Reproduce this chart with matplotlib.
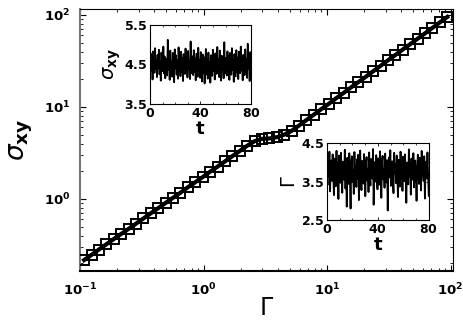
import numpy as np
import matplotlib
matplotlib.use("Agg")
import matplotlib.pyplot as plt
from matplotlib.ticker import LogLocator, NullFormatter, FixedLocator

plt.rcParams['font.family'] = ['DejaVu Sans']
plt.rcParams['mathtext.fontset'] = 'dejavusans'

# ---- main curve data ----
gamma = [0.108, 0.124, 0.142, 0.163, 0.187, 0.215, 0.247, 0.284, 0.326, 0.374,
         0.430, 0.493, 0.566, 0.650, 0.746, 0.857, 0.984, 1.13, 1.30, 1.49,
         1.71, 1.96, 2.25, 2.59, 2.97, 3.41, 3.92, 4.50, 5.16, 5.93,
         6.81, 7.82, 8.97, 10.3, 11.8, 13.6, 15.6, 17.9, 20.6, 23.6,
         27.1, 31.1, 35.7, 41.0, 47.1, 54.1, 62.1, 71.3, 81.8, 94.0]
sigma = [0.217, 0.247, 0.282, 0.321, 0.366, 0.416, 0.473, 0.539, 0.614, 0.699,
         0.796, 0.906, 1.03, 1.17, 1.34, 1.52, 1.73, 1.98, 2.25, 2.56,
         2.92, 3.32, 3.78, 4.25, 4.50, 4.55, 4.70, 5.00, 5.50, 6.29,
         7.21, 8.26, 9.46, 10.8, 12.4, 14.2, 16.3, 18.6, 21.3, 24.4,
         28.0, 32.1, 36.7, 42.1, 48.2, 55.2, 63.2, 72.4, 83.0, 95.1]

# ---- inset time series ----
t_start, t_end = 0, 80
sigma_t = [4.21, 4.78, 4.35, 4.66, 4.12, 4.83, 4.47, 4.29, 4.91, 4.38,
           4.62, 4.18, 4.74, 4.41, 4.87, 4.25, 4.59, 4.09, 4.80, 4.44,
           4.33, 4.95, 4.27, 4.70, 4.15, 4.64, 4.52, 4.22, 5.12, 4.36,
           4.69, 4.11, 4.85, 4.30, 4.57, 4.19, 4.79, 4.46, 4.05, 4.88,
           4.40, 4.73, 4.24, 4.61, 4.14, 4.93, 4.37, 4.55, 4.20, 4.82,
           4.31, 4.67, 4.08, 4.76, 4.43, 4.26, 4.90, 4.34, 4.63, 4.17,
           4.84, 4.39, 4.58, 4.13, 5.08, 4.28, 4.71, 4.45, 4.23, 4.86,
           4.32, 4.65, 4.10, 4.77, 4.48, 4.19, 4.92, 4.35, 4.60, 4.16,
           4.81, 4.42, 4.07, 4.75, 4.29, 4.68, 4.02, 4.54, 4.89, 4.25,
           4.62, 4.14, 4.80, 4.38, 4.56, 4.04, 4.73, 4.47, 4.21, 4.87,
           4.33, 4.69, 4.12, 4.78, 4.40, 4.26, 4.94, 4.30, 4.63, 4.18,
           4.85, 4.44, 4.09, 4.72, 4.36, 4.59, 4.15, 5.06, 4.27, 4.66,
           4.46, 4.22, 4.83, 4.34, 4.70, 4.11, 4.79, 4.41, 4.24, 4.91,
           4.37, 4.61, 4.06, 4.76, 4.49, 4.20, 4.86, 4.31, 4.67, 4.13,
           4.82, 4.43, 4.28, 4.95, 4.35, 4.58, 4.10, 4.74, 4.45, 4.23,
           4.88, 4.32, 4.64, 4.16, 5.02, 4.39, 4.71, 4.08, 4.81, 4.47]
gamma_t = [3.92, 3.41, 4.15, 3.63, 4.28, 3.25, 3.88, 4.05, 3.52, 4.21,
           3.70, 3.15, 4.10, 3.84, 3.38, 4.30, 3.59, 3.97, 3.05, 4.18,
           3.76, 3.47, 4.25, 3.66, 3.21, 4.02, 3.89, 3.55, 4.33, 3.32,
           3.94, 2.85, 4.12, 3.71, 3.44, 4.24, 3.60, 2.80, 3.99, 4.16,
           3.49, 3.81, 3.18, 4.27, 3.68, 3.90, 3.36, 4.08, 3.57, 4.20,
           3.02, 3.86, 4.31, 3.62, 3.28, 4.04, 3.74, 3.45, 4.22, 3.79,
           3.12, 3.95, 4.14, 3.53, 3.83, 3.23, 4.26, 3.67, 3.40, 4.09,
           3.91, 3.58, 4.35, 2.90, 3.73, 4.01, 3.50, 4.19, 3.64, 3.30,
           4.11, 3.87, 3.42, 4.29, 3.69, 3.08, 3.98, 4.17, 3.56, 3.82,
           3.34, 4.23, 3.75, 3.48, 4.06, 2.75, 3.93, 4.13, 3.61, 4.32,
           3.39, 3.85, 4.03, 3.54, 3.20, 4.25, 3.72, 3.96, 3.46, 4.18,
           3.65, 3.10, 4.07, 3.80, 3.37, 4.28, 3.59, 3.92, 3.26, 4.15,
           3.77, 3.51, 4.21, 3.68, 2.95, 4.00, 3.88, 3.43, 4.34, 3.63,
           3.97, 3.16, 4.10, 3.78, 3.55, 4.24, 3.35, 3.90, 4.05, 3.60,
           3.00, 3.84, 4.20, 3.70, 3.44, 4.12, 3.81, 3.27, 4.30, 3.66,
           3.94, 3.52, 4.16, 3.06, 3.86, 4.02, 3.58, 4.26, 3.73, 3.13]

main_xticks = [0.1, 1, 10, 100]
main_xticklabels = [r'$\mathbf{10^{-1}}$', r'$\mathbf{10^{0}}$', r'$\mathbf{10^{1}}$', r'$\mathbf{10^{2}}$']
main_yticks = [1, 10, 100]
main_yticklabels = [r'$\mathbf{10^{0}}$', r'$\mathbf{10^{1}}$', r'$\mathbf{10^{2}}$']
inset_xticks = [0, 40, 80]
inset1_yticks = [3.5, 4.5, 5.5]
inset2_yticks = [2.5, 3.5, 4.5]

fig = plt.figure(figsize=(4.63, 3.27), dpi=100)
ax = fig.add_axes([0.1728, 0.1713, 0.806, 0.801])
ax.plot(gamma, sigma, '-', color='black', lw=3.0, zorder=2)
ax.plot(gamma, sigma, 's', mfc='none', mec='black', mew=1.4, ms=7.5, zorder=3)
ax.set_xscale('log')
ax.set_yscale('log')
ax.set_xlim(0.1, 105)
ax.set_ylim(0.165, 116)
ax.set_xticks(main_xticks)
ax.set_xticklabels(main_xticklabels)
ax.set_yticks(main_yticks)
ax.set_yticklabels(main_yticklabels)
ax.xaxis.set_minor_locator(LogLocator(base=10, subs=np.arange(2, 10)))
ax.yaxis.set_minor_locator(LogLocator(base=10, subs=np.arange(2, 10)))
ax.xaxis.set_minor_formatter(NullFormatter())
ax.yaxis.set_minor_formatter(NullFormatter())
ax.tick_params(which='both', direction='in', top=True, right=True, labelsize=9.5)
ax.tick_params(axis='x', pad=8)
ax.tick_params(axis='y', pad=7)
ax.tick_params(which='major', length=4, width=0.8)
ax.tick_params(which='minor', length=2, width=0.6)
ax.spines['left'].set_color('#777777')
ax.spines['left'].set_linewidth(1.5)
ax.spines['bottom'].set_linewidth(1.5)
for s in ['top', 'right']:
    ax.spines[s].set_linewidth(0.8)
ax.set_xlabel(r'$\Gamma$', fontsize=17, labelpad=-1, fontfamily='DejaVu Serif')
ax.set_ylabel(r'$\sigma_{\mathbf{xy}}$', fontsize=19, labelpad=6)

def style_inset(a, yticks, ylabel):
    a.set_xlim(t_start, t_end)
    a.set_ylim(yticks[0], yticks[-1])
    a.set_xticks(inset_xticks)
    a.set_yticks(yticks)
    a.set_xticklabels([r'$\mathbf{%d}$' % v for v in inset_xticks])
    a.set_yticklabels([r'$\mathbf{%.1f}$' % v for v in yticks])
    a.xaxis.set_minor_locator(FixedLocator(np.arange(0, 81, 10)))
    a.tick_params(which='both', direction='in', top=True, right=True, labelsize=9, pad=2)
    a.tick_params(which='major', length=2.5, width=0.6)
    a.tick_params(which='minor', length=1.5, width=0.5)
    for s in a.spines.values():
        s.set_linewidth(0.8)
    a.set_xlabel(r'$\mathbf{t}$', fontsize=13, labelpad=0)
    a.set_ylabel(ylabel, fontsize=14, labelpad=1)

ax1 = fig.add_axes([0.324, 0.682, 0.218, 0.242])
ax1.plot(np.linspace(t_start, t_end, len(sigma_t)), sigma_t, color='black', lw=1.3)
style_inset(ax1, inset1_yticks, r'$\sigma_{\mathbf{xy}}$')

ax2 = fig.add_axes([0.706, 0.327, 0.220, 0.235])
ax2.plot(np.linspace(t_start, t_end, len(gamma_t)), gamma_t, color='black', lw=1.3)
style_inset(ax2, inset2_yticks, r'$\Gamma$')
ax2.yaxis.label.set_fontfamily('DejaVu Serif')

fig.savefig('out.png', dpi=100)
